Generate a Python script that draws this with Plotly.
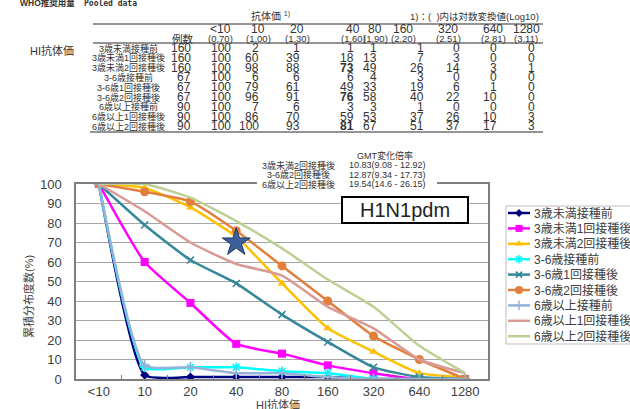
import plotly.graph_objects as go

W, H = 630, 409
FONT = "Liberation Sans, Noto Sans CJK JP, sans-serif"
TXT = "#333333"

# ---------------- data ----------------
titers = ["<10", "10", "20", "40", "80", "160", "320", "640", "1280"]
log_titers = ["(0.70)", "(1.00)", "(1.30)", "(1.60)", "(1.90)", "(2.20)", "(2.51)", "(2.81)", "(3.11)"]
groups = ["3歳未満接種前", "3歳未満1回接種後", "3歳未満2回接種後",
          "3-6歳接種前", "3-6歳1回接種後", "3-6歳2回接種後",
          "6歳以上接種前", "6歳以上1回接種後", "6歳以上2回接種後"]
n_cases = [160, 160, 160, 67, 67, 67, 90, 90, 90]

u3_pre = [100, 2, 1, 1, 1, 1, 0, 0, 0]
u3_1st = [100, 60, 39, 18, 13, 7, 3, 0, 0]
u3_2nd = [100, 98, 88, 73, 49, 26, 14, 3, 1]
a36_pre = [100, 6, 6, 6, 4, 3, 0, 0, 0]
a36_1st = [100, 79, 61, 49, 33, 19, 6, 1, 0]
a36_2nd = [100, 96, 91, 76, 58, 40, 22, 10, 0]
o6_pre = [100, 7, 6, 3, 3, 1, 0, 0, 0]
o6_1st = [100, 86, 70, 59, 53, 37, 26, 10, 3]
o6_2nd = [100, 100, 93, 81, 67, 51, 37, 17, 3]
series = [u3_pre, u3_1st, u3_2nd, a36_pre, a36_1st, a36_2nd, o6_pre, o6_1st, o6_2nd]

gmt_groups = ["3歳未満2回接種後", "3-6歳2回接種後", "6歳以上2回接種後"]
gmt_values = ["10.83(9.08 - 12.92)", "12.87(9.34 - 17.73)", "19.54(14.6 - 26.15)"]

star_x = ["40"]
star_y = [70]

# ---------------- styles ----------------
colors = ["#000080", "#FF00FF", "#FFC000", "#00FFFF", "#35879A",
          "#E27F3A", "#95B3D7", "#D99A96", "#BDD094"]
symbols = ["diamond", "square", "triangle-up", "asterisk-open", "x-thin-open",
           "circle", "cross-thin-open", None, None]
msizes = [7, 8, 8, 8, 7, 9, 8, 0, 0]
SMOOTH = 0.5

fig = go.Figure()

# chart lines
for name, vals, c, sym, ms in zip(groups, series, colors, symbols, msizes):
    if sym:
        fig.add_trace(go.Scatter(
            x=titers, y=vals, name=name, mode="lines+markers",
            line=dict(color=c, width=2.5, shape="spline", smoothing=SMOOTH),
            marker=dict(color=c, size=ms, symbol=sym,
                        line=dict(color=c, width=1.6 if "open" in sym else 0)),
            xaxis="x", yaxis="y", showlegend=False))
    else:
        fig.add_trace(go.Scatter(
            x=titers, y=vals, name=name, mode="lines",
            line=dict(color=c, width=2.5, shape="spline", smoothing=SMOOTH),
            xaxis="x", yaxis="y", showlegend=False))

fig.add_trace(go.Scatter(x=star_x, y=star_y, mode="markers", showlegend=False,
                         marker=dict(symbol="star", size=21, color="#3C5F9A",
                                     line=dict(color="#1F3A68", width=1)),
                         xaxis="x", yaxis="y"))

# custom legend drawn on a pixel overlay axis (x2/y2)
leg_y0, leg_dy = 213, 15.4
for i, (name, c, sym, ms) in enumerate(zip(groups, colors, symbols, msizes)):
    yy = leg_y0 + i * leg_dy
    fig.add_trace(go.Scatter(x=[508, 530], y=[yy, yy], mode="lines",
                             line=dict(color=c, width=2.5), xaxis="x2", yaxis="y2",
                             showlegend=False, hoverinfo="skip"))
    if sym:
        fig.add_trace(go.Scatter(x=[519], y=[yy], mode="markers",
                                 marker=dict(color=c, size=max(ms - 1, 6), symbol=sym,
                                             line=dict(color=c, width=1.5 if "open" in sym else 0)),
                                 xaxis="x2", yaxis="y2", showlegend=False, hoverinfo="skip"))

ann = []
shapes = []


def A(x, y, text, size=11, xanchor="center", yanchor="middle", color=TXT, family=FONT, **kw):
    ann.append(dict(x=x, y=y, xref="x2", yref="y2", text=text, showarrow=False,
                    xanchor=xanchor, yanchor=yanchor,
                    font=dict(size=size, color=color, family=family), **kw))


for i, name in enumerate(groups):
    A(532, leg_y0 + i * leg_dy, name, size=12, xanchor="left", color="#404040")

shapes.append(dict(type="rect", xref="x2", yref="y2", x0=506, x1=645, y0=206, y1=344,
                   line=dict(color="#BFBFBF", width=1), fillcolor="rgba(0,0,0,0)", layer="below"))

# ---------------- table ----------------
A(18, 3, "<b>WHO推奨用量</b>", size=8.5, xanchor="left")
A(82, 3, "<b>Pooled data</b>", size=8, xanchor="left", family="DejaVu Sans Mono, monospace")
A(270, 16, "抗体価 <sup>1)</sup>", size=10)
A(541, 16, "1)：(  )内は対数変換値(Log10)", size=9.5, xanchor="right")

head_cx = [220, 258, 297, 353, 375, 403, 448, 493, 526]
val_rx = [233, 261, 302, 356, 379, 426, 462, 499, 537]
for t, lg, cx in zip(titers, log_titers, head_cx):
    A(cx, 29, t, size=12)
    A(cx, 38.5, lg, size=9.5)
A(183, 38.5, "例数", size=10.5)
A(52, 50, "HI抗体価", size=11)

row_y0, row_dy = 48, 9.8
for r, (name, n, vals) in enumerate(zip(groups, n_cases, series)):
    yy = row_y0 + r * row_dy
    A(128, yy, name, size=9)
    A(193, yy, str(n), size=12, xanchor="right")
    for c, (v, rx) in enumerate(zip(vals, val_rx)):
        txt = f"<b>{v}</b>" if (c == 3 and r in (2, 5, 8)) else str(v)
        A(rx, yy, txt, size=12, xanchor="right")

for (x0, y) in [(93, 24), (93, 43), (90, 132)]:
    shapes.append(dict(type="line", xref="x2", yref="y2", x0=x0, x1=543, y0=y, y1=y,
                       line=dict(color="#707070", width=1.5)))

# ---------------- GMT block ----------------
shapes.append(dict(type="rect", xref="x2", yref="y2", x0=257, x1=437, y0=178, y1=189,
                   line=dict(width=0), fillcolor="white", layer="above"))
A(385, 155, "GMT変化倍率", size=9)
for i, (g, v) in enumerate(zip(gmt_groups, gmt_values)):
    yy = 165 + i * 9.5
    A(298, yy, g, size=9)
    A(347, yy, v, size=9, xanchor="left")

# ---------------- H1N1pdm box ----------------
shapes.append(dict(type="rect", xref="x2", yref="y2", x0=342, x1=468, y0=197, y1=223,
                   line=dict(color="#000000", width=2), fillcolor="white", layer="above"))
A(405, 210, "H1N1pdm", size=20, color="#222222")

# axis titles
A(28, 297, "累積分布度数(%)", size=11, textangle=-90, color="#404040")
A(278, 404, "HI抗体価", size=11, color="#404040")

fig.update_layout(
    width=W, height=H,
    margin=dict(l=0, r=0, t=0, b=0),
    paper_bgcolor="white", plot_bgcolor="rgba(0,0,0,0)",
    template="none",
    showlegend=False,
    font=dict(family=FONT, color=TXT),
    xaxis=dict(domain=[76 / W, 488 / W], type="category", categoryorder="array",
               categoryarray=titers, range=[-0.5, 8.5], showline=True, linecolor="#7F7F7F",
               linewidth=1.5, mirror=True, showgrid=False, zeroline=False,
               ticks="inside", tickson="boundaries", ticklen=4, tickcolor="#7F7F7F",
               tickfont=dict(size=13, color="#404040", family=FONT), anchor="y",
               automargin=False, ticklabelstandoff=0, fixedrange=True),
    yaxis=dict(domain=[(H - 379) / H, (H - 184) / H], range=[0, 100], dtick=10, tick0=0,
               showgrid=True, gridcolor="#A6A6A6", gridwidth=1, showline=True,
               linecolor="#7F7F7F", linewidth=1.5, mirror=True, zeroline=False, ticks="",
               tickfont=dict(size=13, color="#404040", family=FONT), anchor="x",
               automargin=False, ticklabelstandoff=10, fixedrange=True),
    xaxis2=dict(domain=[0, 1], range=[0, W], visible=False, anchor="y2", fixedrange=True),
    yaxis2=dict(domain=[0, 1], range=[H, 0], visible=False, anchor="x2", fixedrange=True),
    annotations=ann,
    shapes=shapes,
)

fig.write_html("out.html")
